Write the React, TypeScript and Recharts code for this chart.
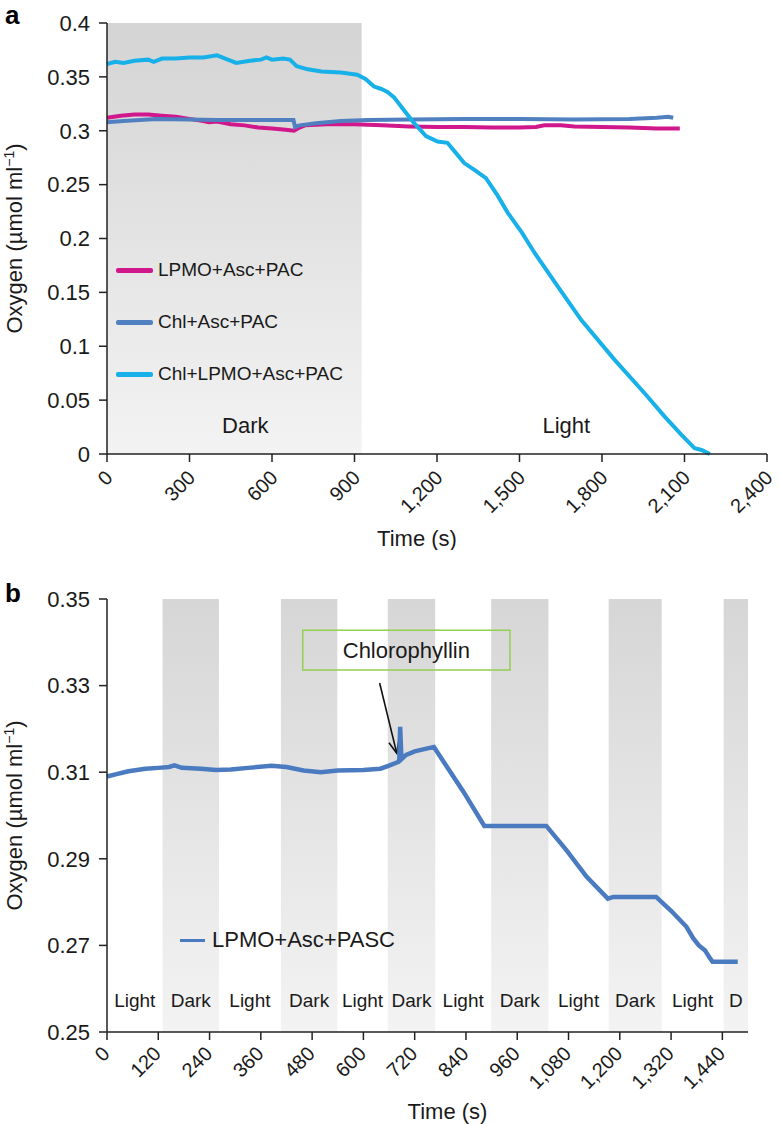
import React from 'react';
import {
  LineChart, Line, XAxis, YAxis, ReferenceArea, ReferenceLine, Legend,
} from 'recharts';

const FONT = '"Liberation Sans", Arial, Helvetica, sans-serif';
const INK = '#1a1a1a';

// panel a: three O2 traces (time in s, oxygen in µmol/ml)
const seriesA = ['LPMO+Asc+PAC', 'Chl+Asc+PAC', 'Chl+LPMO+Asc+PAC'];

const lpmoT = [0, 50, 100, 150, 200, 250, 300, 350, 370, 400, 450, 500, 550, 600, 650, 680, 700, 720, 800, 900, 1000, 1100, 1200, 1300, 1400, 1500, 1560, 1590, 1650, 1700, 1800, 1900, 2000, 2083];
const lpmoV = [0.312, 0.314, 0.315, 0.315, 0.314, 0.313, 0.311, 0.309, 0.308, 0.3085, 0.306, 0.305, 0.303, 0.302, 0.301, 0.3, 0.303, 0.305, 0.306, 0.306, 0.305, 0.304, 0.3035, 0.3035, 0.303, 0.303, 0.3035, 0.305, 0.305, 0.304, 0.3035, 0.303, 0.302, 0.302];

const chlT = [0, 60, 120, 180, 300, 400, 500, 600, 678, 684, 700, 760, 850, 950, 1100, 1300, 1500, 1700, 1900, 2000, 2040, 2059];
const chlV = [0.308, 0.309, 0.31, 0.311, 0.3105, 0.31, 0.31, 0.31, 0.31, 0.3035, 0.305, 0.307, 0.309, 0.31, 0.3105, 0.311, 0.311, 0.3105, 0.311, 0.312, 0.313, 0.312];

const mixT = [0, 30, 60, 100, 150, 170, 200, 250, 300, 350, 400, 430, 470, 520, 560, 580, 600, 640, 665, 690, 730, 780, 850, 910, 940, 971, 995, 1020, 1044, 1080, 1117, 1160, 1202, 1238, 1270, 1299, 1340, 1378, 1420, 1457, 1510, 1554, 1639, 1724, 1846, 1955, 2028, 2089, 2137, 2162, 2192];
const mixV = [0.362, 0.364, 0.363, 0.365, 0.366, 0.364, 0.367, 0.367, 0.368, 0.368, 0.37, 0.367, 0.363, 0.365, 0.366, 0.368, 0.366, 0.367, 0.366, 0.36, 0.357, 0.355, 0.354, 0.352, 0.348, 0.341, 0.339, 0.336, 0.331, 0.319, 0.307, 0.295, 0.29, 0.2888, 0.279, 0.27, 0.263, 0.256, 0.24, 0.224, 0.205, 0.187, 0.1555, 0.1245, 0.0874, 0.0564, 0.0347, 0.0177, 0.0053, 0.0037, 0];

const ticksA = [0, 300, 600, 900, 1200, 1500, 1800, 2100, 2400];
const yTicksA = [0, 0.05, 0.1, 0.15, 0.2, 0.25, 0.3, 0.35, 0.4];
const darkEndA = 926;

// panel b: light/dark cycling
const pascT = [0, 20, 50, 90, 120, 145, 158, 175, 220, 255, 290, 330, 385, 420, 460, 500, 540, 600, 640, 660, 680, 684, 686, 689, 700, 720, 750, 765, 834, 883, 1028, 1075, 1122, 1172, 1185, 1285, 1320, 1356, 1372, 1385, 1399, 1410, 1417, 1476];
const pascV = [0.309, 0.3095, 0.3102, 0.3108, 0.311, 0.3112, 0.3116, 0.311, 0.3108, 0.3105, 0.3106, 0.311, 0.3115, 0.3112, 0.3104, 0.31, 0.3104, 0.3105, 0.3108, 0.3115, 0.3123, 0.3128, 0.3205, 0.313, 0.314, 0.3148, 0.3155, 0.3158, 0.3055, 0.2976, 0.2976, 0.292, 0.2859, 0.2808, 0.2812, 0.2812, 0.278, 0.2743, 0.2716, 0.27, 0.2689, 0.2672, 0.2662, 0.2662];

const phaseStart = [0, 130, 262, 407, 539, 657, 768, 899, 1033, 1174, 1298, 1443];
const phaseEnd = [130, 262, 407, 539, 657, 768, 899, 1033, 1174, 1298, 1443, 1500];
const phaseName = ['Light', 'Dark', 'Light', 'Dark', 'Light', 'Dark', 'Light', 'Dark', 'Light', 'Dark', 'Light', 'D'];

const ticksB = [0, 120, 240, 360, 480, 600, 720, 840, 960, 1080, 1200, 1320, 1440];
const yTicksB = [0.25, 0.27, 0.29, 0.31, 0.33, 0.35];

const toRows = (t: number[], v: number[]) => t.map((x, i) => ({ t: x, v: v[i] }));

const fmtX = (v: number) => (v >= 1000 ? v.toLocaleString('en-US') : String(v));
const fmtY = (v: number) => String(+v.toFixed(2));

const rotTick = (dx: number, dy: number) => (props: any) => {
  const { x, y, payload } = props;
  return (
    <g transform={`translate(${x + dx},${y + dy})`}>
      <text x={0} y={0} dy="0.35em" textAnchor="end" transform="rotate(-45)"
        fontSize={20} fill={INK} fontFamily={FONT}>
        {fmtX(payload.value)}
      </text>
    </g>
  );
};

const yTitle = (props: any) => {
  const vb = props.viewBox;
  const cx = 22;
  const cy = vb.y + vb.height / 2;
  return (
    <text x={cx} y={cy} textAnchor="middle" transform={`rotate(-90, ${cx}, ${cy})`}
      fontSize={22} fill={INK} fontFamily={FONT}>
      Oxygen (µmol ml<tspan dy={-8} fontSize={14}>−1</tspan><tspan dy={8}>)</tspan>
    </text>
  );
};

const xTitle = (dx: number, dy: number) => (props: any) => {
  const vb = props.viewBox;
  return (
    <text x={vb.x + vb.width / 2 + dx} y={vb.y + dy} textAnchor="middle"
      fontSize={22} fill={INK} fontFamily={FONT}>
      Time (s)
    </text>
  );
};

const phaseLabel = (text: string, dx: number, off: number, size: number) => (props: any) => {
  const vb = props.viewBox;
  return (
    <text x={vb.x + vb.width / 2 + dx} y={vb.y + vb.height - off} textAnchor="middle"
      fontSize={size} fill={INK} fontFamily={FONT}>
      {text}
    </text>
  );
};

const Arrow = (p: any) => {
  const { x1, y1, x2, y2 } = p;
  const a = Math.atan2(y2 - y1, x2 - x1);
  const L = 13;
  const ax = x2 - L * Math.cos(a - 0.4), ay = y2 - L * Math.sin(a - 0.4);
  const bx = x2 - L * Math.cos(a + 0.4), by = y2 - L * Math.sin(a + 0.4);
  return (
    <g>
      <line x1={x1} y1={y1} x2={x2} y2={y2} stroke="#111" strokeWidth={1.6} />
      <polyline points={`${ax},${ay} ${x2},${y2} ${bx},${by}`} fill="none" stroke="#111" strokeWidth={1.6} />
    </g>
  );
};

const legendA = (props: any) => {
  const items = [...(props.payload || [])].sort(
    (p: any, q: any) => seriesA.indexOf(p.value) - seriesA.indexOf(q.value));
  return (
    <div style={{ fontFamily: FONT }}>
      {items.map((e: any) => (
        <div key={e.value} style={{ display: 'flex', alignItems: 'center', height: 52 }}>
          <span style={{ display: 'inline-block', width: 37, height: 5, borderRadius: 2, background: e.color }} />
          <span style={{ marginLeft: 5, fontSize: 19, color: INK }}>{e.value}</span>
        </div>
      ))}
    </div>
  );
};

const legendB = (props: any) => (
  <div style={{ fontFamily: FONT }}>
    {(props.payload || []).map((e: any) => (
      <div key={e.value} style={{ display: 'flex', alignItems: 'center', height: 30 }}>
        <span style={{ display: 'inline-block', width: 25, height: 3, background: e.color }} />
        <span style={{ marginLeft: 7, fontSize: 22, color: INK }}>{e.value}</span>
      </div>
    ))}
  </div>
);

const axisProps = {
  stroke: '#222',
  strokeWidth: 1.5,
  tickSize: 8,
};

function PanelA() {
  return (
    <LineChart width={780} height={550} margin={{ top: 23, right: 13, bottom: 26, left: 47 }}>
      <defs>
        <linearGradient id="gradA" x1="0" y1="0" x2="0" y2="1">
          <stop offset="0%" stopColor="#d4d4d4" />
          <stop offset="100%" stopColor="#f3f3f3" />
        </linearGradient>
      </defs>
      <XAxis dataKey="t" type="number" domain={[0, 2400]} ticks={ticksA} interval={0}
        height={70} tickMargin={0} tick={rotTick(2, 12)} label={{ content: xTitle(-20, 92) }} {...axisProps} />
      <YAxis type="number" domain={[0, 0.4]} ticks={yTicksA} interval={0} width={60}
        tickMargin={9} tickFormatter={fmtY} tick={{ fontSize: 22, fill: INK, fontFamily: FONT }}
        label={{ content: yTitle }} {...axisProps} />
      <ReferenceArea x1={0} x2={darkEndA} y1={0} y2={0.4} fill="url(#gradA)" fillOpacity={1} stroke="none"
        label={{ content: phaseLabel('Dark', 11, 21, 22) }} />
      <ReferenceArea x1={darkEndA} x2={2400} y1={0} y2={0.4} fill="none" stroke="none"
        label={{ content: phaseLabel('Light', 2, 21, 22) }} />
      <Legend layout="vertical" align="center" verticalAlign="middle" content={legendA}
        wrapperStyle={{ left: 116, top: 244, width: 'auto' }} />
      <Line data={toRows(lpmoT, lpmoV)} dataKey="v" name={seriesA[0]} stroke="#d0178b" strokeWidth={4}
        dot={false} isAnimationActive={false} />
      <Line data={toRows(chlT, chlV)} dataKey="v" name={seriesA[1]} stroke="#5080c0" strokeWidth={4}
        dot={false} isAnimationActive={false} />
      <Line data={toRows(mixT, mixV)} dataKey="v" name={seriesA[2]} stroke="#17b0e8" strokeWidth={4}
        dot={false} isAnimationActive={false} />
    </LineChart>
  );
}

function PanelB() {
  return (
    <LineChart width={780} height={564} margin={{ top: 39, right: 32, bottom: 22, left: 47 }}>
      <defs>
        <linearGradient id="gradB" x1="0" y1="0" x2="0" y2="1">
          <stop offset="0%" stopColor="#d6d6d6" />
          <stop offset="100%" stopColor="#f3f3f3" />
        </linearGradient>
      </defs>
      <XAxis dataKey="t" type="number" domain={[0, 1500]} ticks={ticksB} interval={0}
        height={70} tickMargin={0} tick={rotTick(-1, 10)} label={{ content: xTitle(20, 87) }} {...axisProps} />
      <YAxis type="number" domain={[0.25, 0.35]} ticks={yTicksB} interval={0} width={60}
        tickMargin={9} tickFormatter={fmtY} tick={{ fontSize: 22, fill: INK, fontFamily: FONT }}
        label={{ content: yTitle }} {...axisProps} />
      {phaseName.map((n, i) => (
        <ReferenceArea key={i} x1={phaseStart[i]} x2={phaseEnd[i]} y1={0.25} y2={0.35}
          fill={n === 'Light' ? 'none' : 'url(#gradB)'} fillOpacity={1} stroke="none"
          label={{ content: phaseLabel(n, 0, 25, 19) }} />
      ))}
      <ReferenceArea x1={458} x2={943} y1={0.3336} y2={0.3428} fill="none" stroke="#92d050" strokeWidth={1.5}
        label={{ value: 'Chlorophyllin', position: 'center', fontSize: 22, fill: INK, fontFamily: FONT }} />
      <ReferenceLine segment={[{ x: 638, y: 0.3306 }, { x: 678, y: 0.3144 }]} shape={Arrow} />
      <Legend layout="vertical" align="center" verticalAlign="middle" content={legendB}
        wrapperStyle={{ left: 180, top: 365, width: 'auto' }} />
      <Line data={toRows(pascT, pascV)} dataKey="v" name="LPMO+Asc+PASC" stroke="#4a7bc0" strokeWidth={4.5}
        dot={false} isAnimationActive={false} />
    </LineChart>
  );
}

export default function App() {
  return (
    <div style={{ position: 'absolute', left: 0, top: 0, width: 780, height: 1124, background: '#fff', fontFamily: FONT }}>
      <div style={{ position: 'absolute', left: 0, top: 0 }}><PanelA /></div>
      <div style={{ position: 'absolute', left: 0, top: 560 }}><PanelB /></div>
      <span style={{ position: 'absolute', left: 5, top: 0, fontSize: 26, lineHeight: 'normal', fontWeight: 'bold', color: '#000' }}>a</span>
      <span style={{ position: 'absolute', left: 5, top: 578, fontSize: 26, lineHeight: 'normal', fontWeight: 'bold', color: '#000' }}>b</span>
    </div>
  );
}
